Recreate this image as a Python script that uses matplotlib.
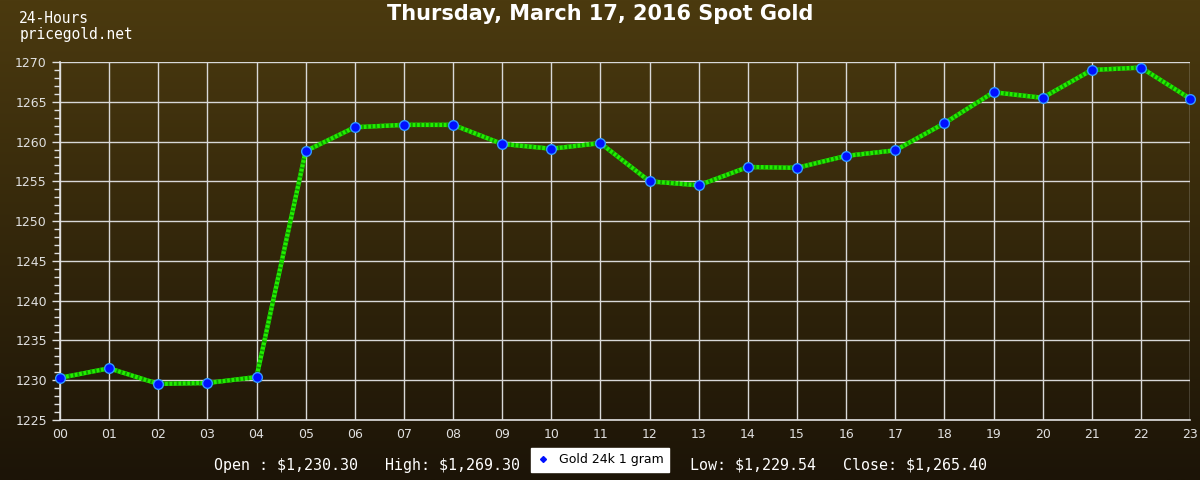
import numpy as np
import matplotlib
matplotlib.use("Agg")
import matplotlib.pyplot as plt
from matplotlib.lines import Line2D
from matplotlib.ticker import MultipleLocator

hours = ["00", "01", "02", "03", "04", "05", "06", "07", "08", "09", "10", "11",
         "12", "13", "14", "15", "16", "17", "18", "19", "20", "21", "22", "23"]
price = [1230.3, 1231.5, 1229.54, 1229.65, 1230.4, 1258.8, 1261.8, 1262.1, 1262.1, 1259.7,
         1259.1, 1259.8, 1255.0, 1254.5, 1256.8, 1256.7, 1258.2, 1258.9, 1262.3, 1266.2,
         1265.5, 1269.0, 1269.3, 1265.4]
title = "Thursday, March 17, 2016 Spot Gold"
stats_left = r"Open : \$1,230.30   High: \$1,269.30"
stats_right = r"Low: \$1,229.54   Close: \$1,265.40"
series_name = "Gold 24k 1 gram"

fig = plt.figure(figsize=(12, 4.8), dpi=100)

# background gradient over the whole figure
bg = fig.add_axes([0, 0, 1, 1], zorder=-10)
top = np.array([0x4b, 0x3a, 0x0f]) / 255
bot = np.array([0x1c, 0x14, 0x07]) / 255
t = np.linspace(0, 1, 256)[:, None]
grad = top[None, :] * (1 - t) + bot[None, :] * t
bg.imshow(grad[:, None, :], aspect="auto", extent=[0, 1, 0, 1])
bg.axis("off")

ax = fig.add_axes([0.05, 0.125, 0.9417, 0.7458])
ax.patch.set_alpha(0)
x = np.arange(len(hours))

ax.plot(x, price, color="#22ee00", lw=3.2, zorder=3)
ax.plot(x, price, color="#119900", lw=3.2, zorder=3, linestyle=(0, (0.4, 0.6)))
ax.plot(x, price, linestyle="none", marker="o", ms=7, mfc="#0010ff", mec="#3399ff",
        mew=1, zorder=4, clip_on=False)

ax.set_xlim(0, 23)
ax.set_ylim(1225, 1270)
ax.set_xticks(x)
ax.set_xticklabels(hours)
ax.yaxis.set_major_locator(MultipleLocator(5))
ax.yaxis.set_minor_locator(MultipleLocator(1))
ax.grid(True, color="#d8d8d8", lw=1)
ax.tick_params(colors="#e0e0e0", labelsize=9, length=6, width=1)
ax.tick_params(axis="y", which="minor", colors="#e0e0e0", length=4, width=1)
ax.tick_params(axis="x", length=0, pad=6)
for side in ["top", "right"]:
    ax.spines[side].set_visible(False)
for side in ["left", "bottom"]:
    ax.spines[side].set_color("#e0e0e0")
    ax.spines[side].set_linewidth(1.2)

fig.text(0.5, 0.97, title, ha="center", va="center", color="white",
         fontsize=15, fontweight="bold")
fig.text(0.016, 0.962, "24-Hours", ha="left", va="center", color="white",
         fontsize=10.5, family="DejaVu Sans Mono")
fig.text(0.016, 0.928, "pricegold.net", ha="left", va="center", color="white",
         fontsize=10.5, family="DejaVu Sans Mono")

fig.text(0.178, 0.031, stats_left, ha="left", va="center", color="white",
         fontsize=10.8, family="DejaVu Sans Mono")
fig.text(0.575, 0.031, stats_right, ha="left", va="center", color="white",
         fontsize=10.8, family="DejaVu Sans Mono")

handle = Line2D([], [], linestyle="none", marker="D", ms=3, color="#0010ff")
leg = fig.legend([handle], [series_name], loc="center", bbox_to_anchor=(0.5, 0.042),
                 frameon=True, fancybox=False, fontsize=9, handlelength=1,
                 handletextpad=0.8, borderpad=0.45, framealpha=1)
leg.get_frame().set_facecolor("white")
leg.get_frame().set_edgecolor("white")

fig.savefig("out.png", dpi=100)
